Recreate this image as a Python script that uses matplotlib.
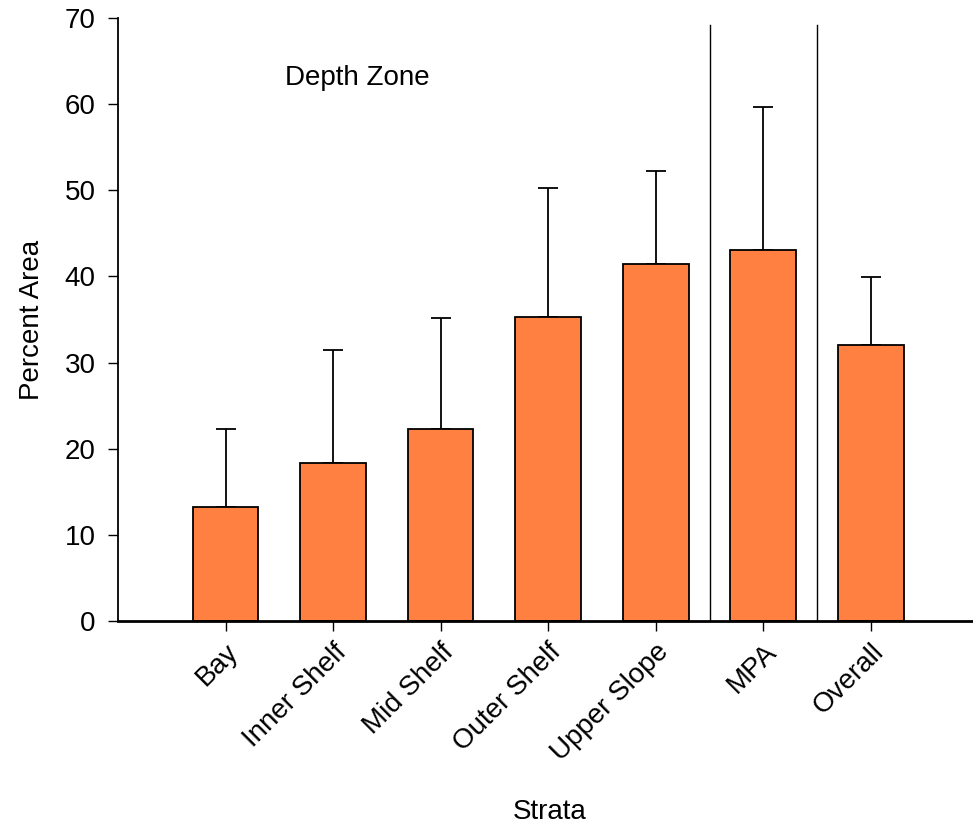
import matplotlib
matplotlib.use("Agg")
import matplotlib.pyplot as plt
import numpy as np

categories = ["Bay", "Inner Shelf", "Mid Shelf", "Outer Shelf", "Upper Slope", "MPA", "Overall"]
values = [13.2, 18.3, 22.3, 35.3, 41.4, 43.1, 32.0]
upper = [22.3, 31.5, 35.2, 50.3, 52.2, 59.7, 39.9]
yticks = [0, 10, 20, 30, 40, 50, 60, 70]

plt.rcParams['font.family'] = ['Liberation Sans', 'DejaVu Sans']
fig = plt.figure(figsize=(9.73, 8.36), dpi=100)
ax = fig.add_axes([0.1213, 0.2575, 0.8787, 0.7206])

x = np.arange(len(categories))
errs = np.array(upper) - np.array(values)
ax.bar(x, values, width=0.61, color="#FF8040", edgecolor="black", linewidth=1.3, zorder=2)
ax.errorbar(x, values, yerr=[np.zeros_like(errs), errs], fmt="none", ecolor="black",
            elinewidth=1.3, capsize=7, capthick=1.3, zorder=1)

for xv in [4.5, 5.5]:
    ax.plot([xv, xv], [0, 69.2], color="black", linewidth=1.0)

ax.set_xlim(-1, 6.95)
ax.set_ylim(0, 70)
ax.set_yticks(yticks)
ax.set_xticks(x)
ax.set_xticklabels(categories, rotation=45, ha="right", rotation_mode="anchor", fontsize=20)
ax.tick_params(axis="y", labelsize=20, length=7, width=1.0, pad=9)
ax.tick_params(axis="x", length=7, width=1.0, pad=6)
for s in ["top", "right"]:
    ax.spines[s].set_visible(False)
ax.spines["left"].set_linewidth(1.3)
ax.spines["bottom"].set_linewidth(2.0)

ax.text(0.55, 63.1, "Depth Zone", fontsize=20, va="center", ha="left")
ax.set_ylabel("Percent Area", fontsize=20)
ax.yaxis.set_label_coords(-0.085, 0.5)
fig.text(0.5645, 1 - 812 / 836, "Strata", fontsize=20, ha="center", va="center")

fig.savefig("out.png", dpi=100)
